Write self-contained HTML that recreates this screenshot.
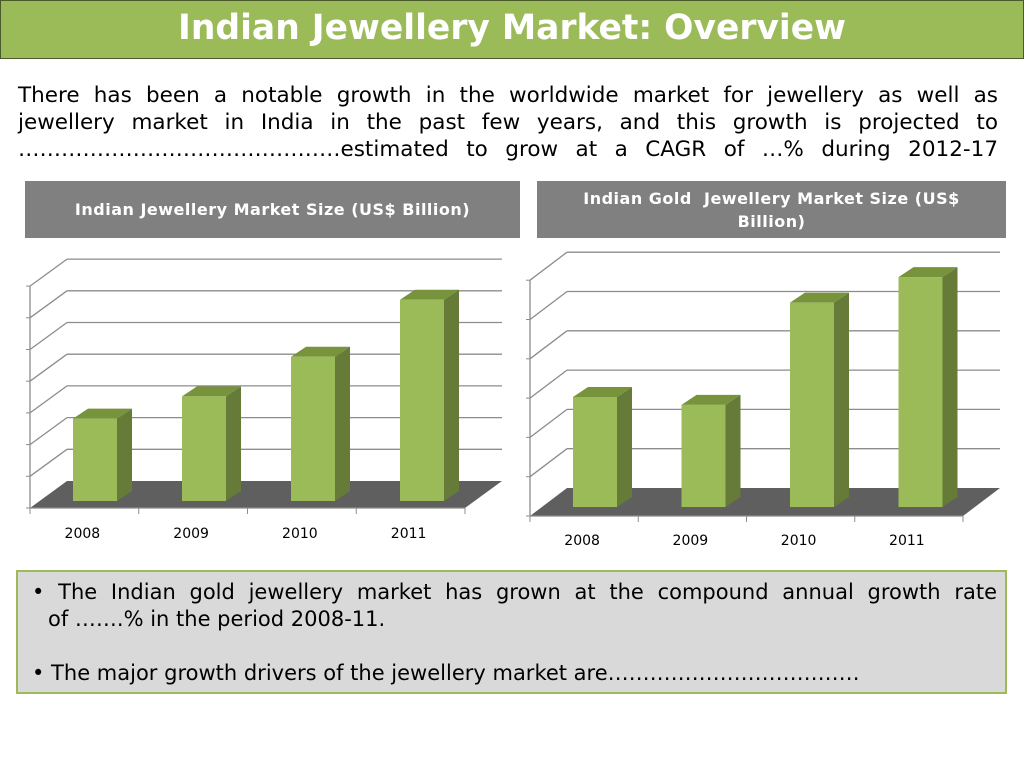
<!DOCTYPE html>
<html><head><meta charset="utf-8">
<style>
body{margin:0;width:1024px;height:768px;background:#fff;font-family:"DejaVu Sans","Liberation Sans",sans-serif;position:relative;overflow:hidden}
.title{position:absolute;left:0;top:0;width:1022px;height:57px;background:#9bbb59;border:1px solid #4a5a2a;color:#fff;font-weight:bold;font-size:34.5px;text-align:center;line-height:54px}
.intro{position:absolute;left:18px;top:82px;width:980px;font-size:21.5px;line-height:27px;text-align:justify;text-align-last:justify;color:#000}
.hdr{position:absolute;background:#808080;color:#fff;font-weight:bold;font-size:16px;text-align:center;display:flex;align-items:center;justify-content:center;letter-spacing:0.5px}
.box{position:absolute;left:16px;top:570px;width:987px;height:120px;background:#d9d9d9;border:2px solid #9bbb59;font-size:21px;line-height:27px}
.box p{margin:0;padding-left:30px;padding-right:8px;text-indent:-16px}
.jl{display:block;text-align:justify;text-align-last:justify}
</style></head><body>
<div class="title">Indian Jewellery Market: Overview</div>
<div class="intro">There has been a notable growth in the worldwide market for jewellery as well as jewellery market in India in the past few years, and this growth is projected to ………………………………………estimated to grow at a CAGR of …% during 2012-17</div>
<div class="hdr" style="left:25px;top:181px;width:495px;height:57px">Indian Jewellery Market Size (US$ Billion)</div>
<div class="hdr" style="left:537px;top:181px;width:469px;height:57px;line-height:23px">Indian Gold &nbsp;Jewellery Market Size (US$<br>Billion)</div>
<svg id="chart" width="1024" height="768" style="position:absolute;left:0;top:0"></svg>
<div class="box">
<p style="margin-top:7px"><span class="jl">• The Indian gold jewellery market has grown at the compound annual growth rate</span>of …….% in the period 2008-11.</p>
<p style="margin-top:27px">• The major growth drivers of the jewellery market are………………………………</p>
</div>
<script>
const categories=["2008","2009","2010","2011"];
const leftValues=[2.6,3.3,4.55,6.35];
const rightValues=[2.8,2.6,5.2,5.85];
const svg=document.getElementById('chart');
const NS='http://www.w3.org/2000/svg';
function mk(t,a,name){const e=document.createElementNS(NS,t);for(const k in a)e.setAttribute(k,a[k]);


svg.appendChild(e);return e;}
function draw(cfg,values,pref){
  const {x0,x1,fy,dx,dy,step,n,barX0,barSp,barW,barBase,labelY}=cfg;
  mk('polygon',{points:`${x0},${fy} ${x1},${fy} ${x1+dx},${fy+dy} ${x0+dx},${fy+dy}`,fill:'#5f5f5f'},pref+'-floor');
  for(let i=1;i<=n;i++){
    const y=fy-i*step;
    mk('line',{x1:x0+dx,y1:y+dy,x2:x1+dx,y2:y+dy,stroke:'#8c8c8c','stroke-width':1.3},pref+'-gridline');
    mk('line',{x1:x0,y1:y,x2:x0+dx,y2:y+dy,stroke:'#8c8c8c','stroke-width':1.3},pref+'-gridline-side');
  }
  mk('line',{x1:x0,y1:fy,x2:x0,y2:fy-n*step,stroke:'#8c8c8c','stroke-width':1.3},pref+'-y-axis');
  for(let i=0;i<=n;i++){mk('line',{x1:x0-4,y1:fy-i*step,x2:x0,y2:fy-i*step,stroke:'#8c8c8c'},pref+'-y-tick');}
  mk('line',{x1:x0,y1:fy,x2:x1,y2:fy,stroke:'#8c8c8c','stroke-width':1.3},pref+'-x-axis');
  const cw=(x1-x0)/categories.length;
  for(let i=0;i<=categories.length;i++){mk('line',{x1:x0+i*cw,y1:fy,x2:x0+i*cw,y2:fy+6,stroke:'#8c8c8c'},pref+'-x-tick');}
  categories.forEach((c,i)=>{
    const bx=barX0+i*barSp, h=values[i]*step, top=barBase-h;
    mk('polygon',{points:`${bx},${top} ${bx+barW},${top} ${bx+barW+15},${top-10} ${bx+15},${top-10}`,fill:'#77933c'},pref+'-bar-top-'+c);
    mk('polygon',{points:`${bx+barW},${top} ${bx+barW+15},${top-10} ${bx+barW+15},${barBase-10} ${bx+barW},${barBase}`,fill:'#667b38'},pref+'-bar-side-'+c);
    mk('rect',{x:bx,y:top,width:barW,height:h,fill:'#9bbb59'},pref+'-bar-'+c);
    const t=mk('text',{x:x0+cw*(i+0.5)-2,y:labelY,'font-size':14,'text-anchor':'middle','font-family':'DejaVu Sans, Liberation Sans, sans-serif',fill:'#000'},pref+'-x-label');
    t.textContent=c;
  });
}
draw({x0:30,x1:465,fy:508,dx:37,dy:-27,step:31.7,n:7,barX0:73,barSp:109,barW:44,barBase:501,labelY:538},leftValues,'left');
draw({x0:530,x1:963,fy:516,dx:37,dy:-28,step:39.3,n:6,barX0:573,barSp:108.5,barW:44,barBase:507,labelY:545},rightValues,'right');
</script>
</body></html>
